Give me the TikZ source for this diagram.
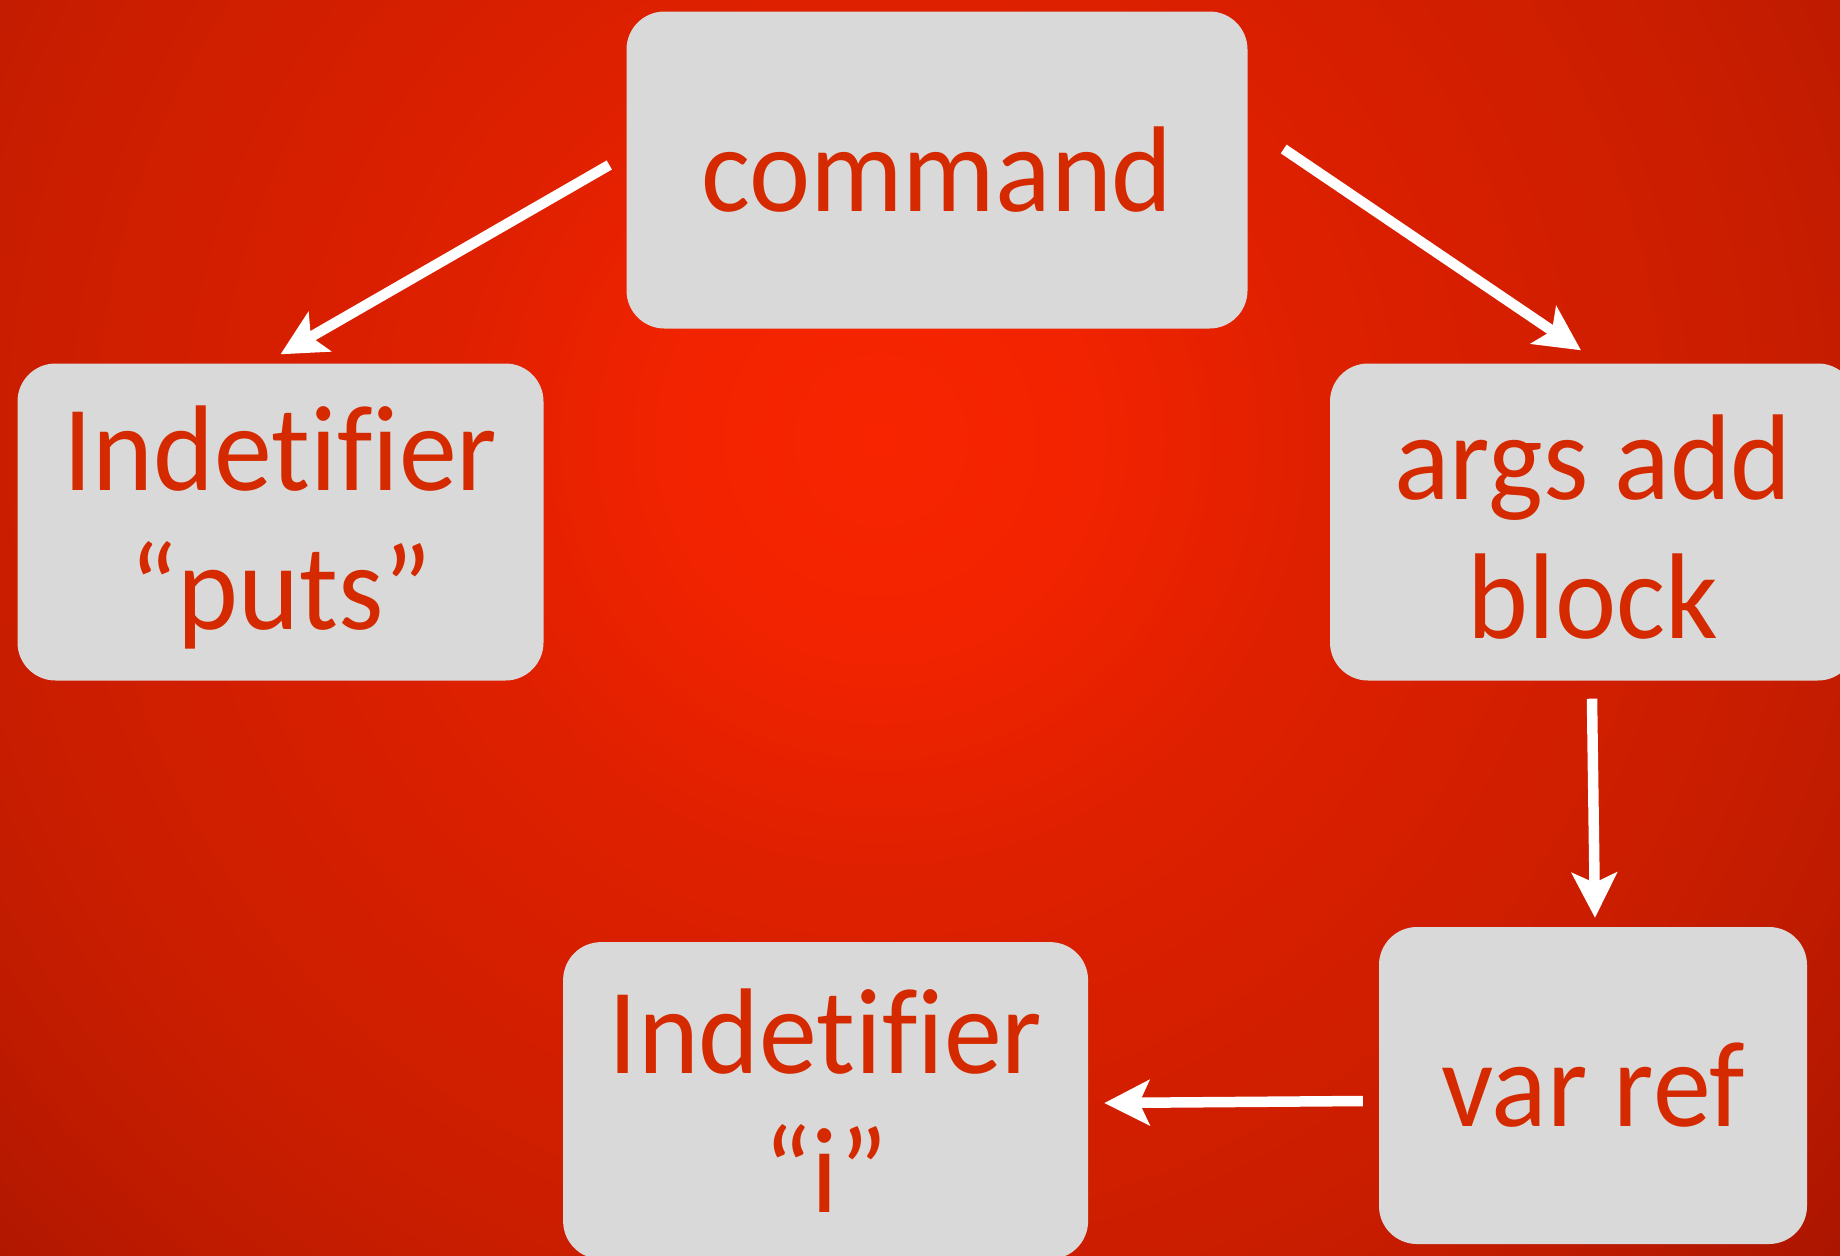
\documentclass[tikz,border=0pt]{standalone}
\usepackage{fontspec}
\usetikzlibrary{arrows.meta}
\newfontfamily\boxfont[FakeStretch=0.95, Ligatures=NoCommon]{Carlito}

\definecolor{glowcore}{HTML}{F82400}
\definecolor{glowinner}{HTML}{F22300}
\definecolor{glowmid}{HTML}{DE2000}
\definecolor{glowouter}{HTML}{CA1D00}
\definecolor{glowrim}{HTML}{BF1B00}
\definecolor{glowedge}{HTML}{A81400}
\definecolor{boxgray}{HTML}{D9D9D9}
\definecolor{textred}{HTML}{D52A00}

% radial glow for the backdrop: 25bp equals the radius of the shaded circle
\pgfdeclareradialshading{redglow}{\pgfpoint{0bp}{0bp}}{%
  color(0bp)=(glowcore); color(4bp)=(glowinner); color(8.5bp)=(glowmid);
  color(17bp)=(glowouter); color(20bp)=(glowrim); color(25bp)=(glowedge);
  color(50bp)=(glowedge)}

% set a line a little lower without changing its box
\newcommand\droptext[1]{\raisebox{-5pt}[\height][\depth]{#1}}

\tikzset{
  box/.style={fill=boxgray, rounded corners=38pt, inner sep=0pt,
    minimum height=317pt, align=center, text=textred,
    font=\boxfont\fontsize{122pt}{139pt}\selectfont},
  link/.style={draw=white, line width=10.5pt,
    -{Stealth[length=45pt, width=45pt, inset=10pt]}}
}

\begin{document}
\begin{tikzpicture}[x=1pt, y=-1pt]
  \useasboundingbox (0,0) rectangle (1840,1256);
  \begin{scope}
    \clip (0,0) rectangle (1840,1256);
    \shade[shading=redglow] (880,440) circle[radius=1300pt];
  \end{scope}

  % syntax tree nodes
  \node[box, minimum width=621pt] (cmd)    at (937,170)     {command};
  \node[box, minimum width=526pt] (puts)   at (280.5,522)   {\droptext{Indetifier}\\\droptext{“puts”}};
  \node[box, minimum width=526pt] (args)   at (1593,522)    {\droptext{args add}\\\droptext{block}};
  \node[box, minimum width=428pt] (varref) at (1593,1085.5) {var ref};
  \node[box, minimum width=525pt] (ident)  at (825.6,1100.6){Indetifier\\“i”};

  % connectors
  \draw[link] ([shift={(-17,-5)}]cmd.west) -- ([shift={(0,-9)}]puts.north);
  \draw[link] ([shift={(36,-21)}]cmd.east) -- ([shift={(-12,-13)}]args.north);
  \draw[link] ([shift={(-1,18)}]args.south) -- ([shift={(2,-9)}]varref.north);
  \draw[link] ([shift={(-16,15.5)}]varref.west) -- ([shift={(16,2.4)}]ident.east);
\end{tikzpicture}
\end{document}
